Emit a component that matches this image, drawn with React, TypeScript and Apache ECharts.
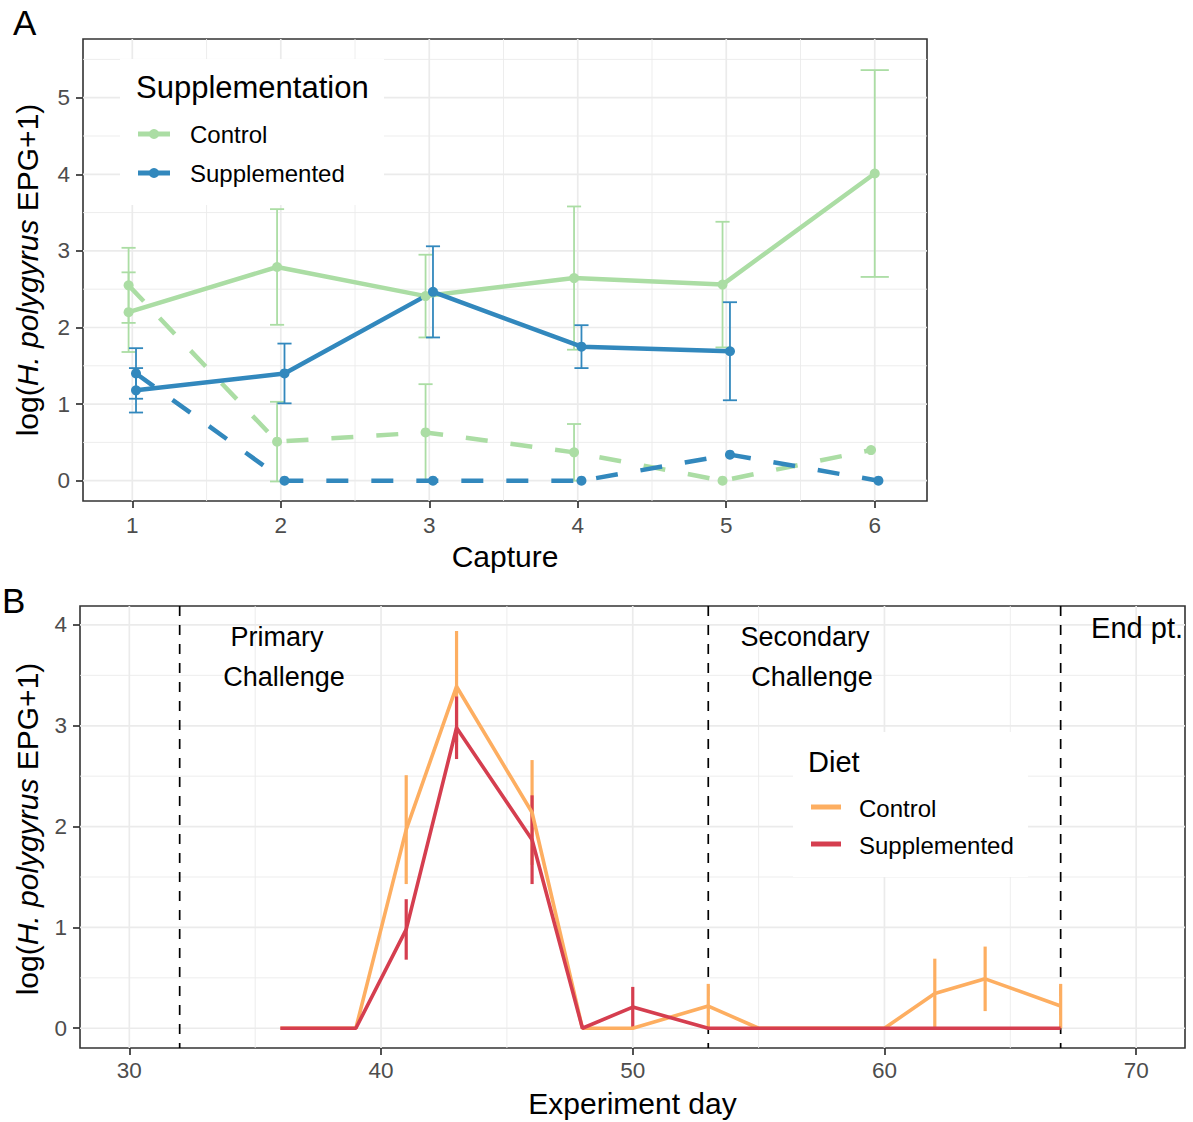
import React, { useEffect, useRef } from "react";
import * as echarts from "echarts";

// ---------------- Panel A data ----------------
const CAPTURES = [1, 2, 3, 4, 5, 6];
// solid lines
const ctrlSolidMean: (number | null)[] = [2.2, 2.79, 2.41, 2.645, 2.56, 4.01];
const ctrlSolidSE: (number | null)[] = [0.52, 0.755, 0.54, 0.935, 0.82, 1.35];
const suppSolidMean: (number | null)[] = [1.18, 1.4, 2.465, 1.75, 1.69, null];
const suppSolidSE: (number | null)[] = [0.29, 0.39, 0.595, 0.28, 0.64, null];
// dashed lines
const ctrlDashMean: (number | null)[] = [2.55, 0.51, 0.63, 0.37, 0.0, 0.4];
const ctrlDashSE: (number | null)[] = [0.49, 0.52, 0.63, 0.37, 0, 0];
const suppDashMean: (number | null)[] = [1.4, 0, 0, 0, 0.34, 0];
const suppDashSE: (number | null)[] = [0.33, 0, 0, 0, 0, 0];

const A_X_TICKS = [1, 2, 3, 4, 5, 6];
const A_X_MINOR = [1.5, 2.5, 3.5, 4.5, 5.5];
const A_Y_TICKS = [0, 1, 2, 3, 4, 5];
const A_Y_MINOR = [0.5, 1.5, 2.5, 3.5, 4.5, 5.5];

// ---------------- Panel B data ----------------
const DAYS = [36, 39, 41, 43, 46, 48, 50, 53, 55, 60, 62, 64, 67];
const ctrlDietMean = [0, 0, 1.97, 3.39, 2.14, 0, 0, 0.22, 0, 0, 0.345, 0.49, 0.22];
const ctrlDietSE = [0, 0, 0.54, 0.55, 0.52, 0, 0, 0.22, 0, 0, 0.345, 0.32, 0.22];
const suppDietMean = [0, 0, 0.98, 2.98, 1.87, 0, 0.21, 0, 0, 0, 0, 0, 0];
const suppDietSE = [0, 0, 0.3, 0.31, 0.44, 0, 0.2, 0, 0, 0, 0, 0, 0];
const PHASE_DAYS = [32, 53, 67];

const B_X_TICKS = [30, 40, 50, 60, 70];
const B_X_MINOR = [35, 45, 55, 65];
const B_Y_TICKS = [0, 1, 2, 3, 4];
const B_Y_MINOR = [0.5, 1.5, 2.5, 3.5];

// ---------------- style ----------------
const FONT = "'Liberation Sans', Arial, Helvetica, sans-serif";
const GREEN = "#abdda4";
const BLUE = "#3288bd";
const ORANGE = "#fdae61";
const RED = "#d53e4f";
const GRID_C = "#ebebeb";
const DODGE = 0.05;
const CAP_HALF = 0.095;

type Grp = { mean: (number | null)[]; se: (number | null)[] };

function dodged(groups: Grp[], gi: number) {
  const line: number[][] = [];
  const err: number[][] = [];
  CAPTURES.forEach((c, i) => {
    const present = groups.map((g, k) => (g.mean[i] != null ? k : -1)).filter((k) => k >= 0);
    const n = present.length;
    const m = groups[gi].mean[i];
    if (m == null) return;
    const k = present.indexOf(gi);
    const x = c + (k - (n - 1) / 2) * DODGE;
    line.push([x, m]);
    const s = groups[gi].se[i];
    if (s != null && s > 0) err.push([x, m - s, m + s, CAP_HALF / n]);
  });
  return { line, err };
}

const errRender = (color: string, lw: number) => (params: any, api: any) => {
  const x = api.value(0);
  const lo = api.value(1);
  const hi = api.value(2);
  const hw = api.value(3);
  const t = api.coord([x, hi]);
  const b = api.coord([x, lo]);
  const st = { stroke: color, lineWidth: lw };
  const children: any[] = [
    { type: "line", shape: { x1: t[0], y1: t[1], x2: b[0], y2: b[1] }, style: st },
  ];
  if (hw > 0) {
    const tl = api.coord([x - hw, hi]);
    const tr = api.coord([x + hw, hi]);
    const bl = api.coord([x - hw, lo]);
    const br = api.coord([x + hw, lo]);
    children.push({ type: "line", shape: { x1: tl[0], y1: tl[1], x2: tr[0], y2: tr[1] }, style: st });
    children.push({ type: "line", shape: { x1: bl[0], y1: bl[1], x2: br[0], y2: br[1] }, style: st });
  }
  return { type: "group", children };
};

const vRender = (color: string, lw: number, dash?: number[]) => (params: any, api: any) => {
  const cs = params.coordSys;
  const x = api.coord([api.value(0), api.value(1)])[0];
  return {
    type: "line",
    shape: { x1: x, y1: cs.y, x2: x, y2: cs.y + cs.height },
    style: { stroke: color, lineWidth: lw, lineDash: dash },
  };
};
const hRender = (color: string, lw: number) => (params: any, api: any) => {
  const cs = params.coordSys;
  const y = api.coord([api.value(0), api.value(1)])[1];
  return {
    type: "line",
    shape: { x1: cs.x, y1: y, x2: cs.x + cs.width, y2: y },
    style: { stroke: color, lineWidth: lw },
  };
};

function gridSeries(idx: number, xMajor: number[], xMinor: number[], yMajor: number[], yMinor: number[], xRef: number, yRef: number) {
  const mk = (name: string, data: number[][], render: any) => ({
    type: "custom",
    name,
    xAxisIndex: idx,
    yAxisIndex: idx,
    silent: true,
    z: 1,
    renderItem: render,
    data,
  });
  return [
    mk("gx-minor" + idx, xMinor.map((v) => [v, yRef]), vRender(GRID_C, 0.9)),
    mk("gy-minor" + idx, yMinor.map((v) => [xRef, v]), hRender(GRID_C, 0.9)),
    mk("gx-major" + idx, xMajor.map((v) => [v, yRef]), vRender(GRID_C, 1.7)),
    mk("gy-major" + idx, yMajor.map((v) => [xRef, v]), hRender(GRID_C, 1.7)),
  ];
}

const tickLabel = { color: "#4d4d4d", fontSize: 22.5, fontFamily: FONT };
const tickLine = { show: true, length: 7, lineStyle: { color: "#333333", width: 1.7 } };
const noLine = { show: false, onZero: false };

export default function App() {
  const ref = useRef<HTMLDivElement>(null);
  useEffect(() => {
    document.body.style.margin = "0";
    if (!ref.current) return;
    const chart = echarts.init(ref.current, undefined, { renderer: "svg" });

    const solidGroups = [
      { mean: ctrlSolidMean, se: ctrlSolidSE },
      { mean: suppSolidMean, se: suppSolidSE },
    ];
    const dashGroups = [
      { mean: ctrlDashMean, se: ctrlDashSE },
      { mean: suppDashMean, se: suppDashSE },
    ];
    const cS = dodged(solidGroups, 0);
    const sS = dodged(solidGroups, 1);
    const cD = dodged(dashGroups, 0);
    const sD = dodged(dashGroups, 1);

    const lineA = (name: string, data: number[][], color: string, dashed: boolean) => ({
      type: "line",
      name,
      xAxisIndex: 0,
      yAxisIndex: 0,
      data,
      z: 3,
      symbol: "circle",
      symbolSize: 10,
      showSymbol: true,
      itemStyle: { color },
      lineStyle: { color, width: 4.5, type: dashed ? [22, 23] : "solid", cap: "butt" },
      silent: true,
    });
    const errA = (name: string, data: number[][], color: string) => ({
      type: "custom",
      name,
      xAxisIndex: 0,
      yAxisIndex: 0,
      z: 3,
      silent: true,
      renderItem: errRender(color, 1.8),
      data,
    });

    const bLine = (name: string, mean: number[], color: string) => ({
      type: "line",
      name,
      xAxisIndex: 1,
      yAxisIndex: 1,
      z: 3,
      data: DAYS.map((d, i) => [d, mean[i]]),
      symbol: "none",
      showSymbol: false,
      lineStyle: { color, width: 3.6 },
      itemStyle: { color },
      silent: true,
    });
    const bErr = (name: string, mean: number[], se: number[], color: string) => ({
      type: "custom",
      name,
      xAxisIndex: 1,
      yAxisIndex: 1,
      z: 3,
      silent: true,
      renderItem: errRender(color, 3.2),
      data: DAYS.map((d, i) => [d, mean[i] - se[i], mean[i] + se[i], 0]).filter((r, i) => se[i] > 0),
    });

    const txt = (text: string, x: number, y: number, size: number, align = "left", extra: any = {}) => ({
      type: "text",
      x,
      y,
      z: 20,
      silent: true,
      style: { text, fontSize: size, fontFamily: FONT, fill: "#000", align, verticalAlign: "middle", ...extra },
    });
    const richTitle = {
      text: "{n|log(}{i|H. polygyrus}{n| EPG+1)}",
      rich: {
        n: { fontSize: 30, fontFamily: FONT, fill: "#000", color: "#000" },
        i: { fontSize: 30, fontFamily: FONT, fontStyle: "italic", fill: "#000", color: "#000" },
      },
    };

    const option: any = {
      animation: false,
      backgroundColor: "#ffffff",
      textStyle: { fontFamily: FONT },
      grid: [
        { left: 83, top: 39, width: 844, height: 462, show: true, borderColor: "#333333", borderWidth: 1.6, backgroundColor: "#fff", outerBoundsMode: "none", containLabel: false },
        { left: 80, top: 606, width: 1105, height: 442, show: true, borderColor: "#333333", borderWidth: 1.6, backgroundColor: "#fff", outerBoundsMode: "none", containLabel: false },
      ],
      xAxis: [
        {
          type: "value",
          gridIndex: 0,
          min: 0.668,
          max: 6.352,
          axisLine: noLine,
          axisTick: { ...tickLine, customValues: A_X_TICKS },
          axisLabel: { ...tickLabel, margin: 13, customValues: A_X_TICKS },
          splitLine: { show: false },
          name: "Capture",
          nameLocation: "middle",
          nameGap: 40,
          nameTextStyle: { fontSize: 30, fontFamily: FONT, color: "#000" },
        },
        {
          type: "value",
          gridIndex: 1,
          min: 28.04,
          max: 71.94,
          axisLine: noLine,
          axisTick: { ...tickLine, customValues: B_X_TICKS },
          axisLabel: { ...tickLabel, margin: 11, customValues: B_X_TICKS },
          splitLine: { show: false },
          name: "Experiment day",
          nameLocation: "middle",
          nameGap: 40,
          nameTextStyle: { fontSize: 30, fontFamily: FONT, color: "#000" },
        },
      ],
      yAxis: [
        {
          type: "value",
          gridIndex: 0,
          min: -0.265,
          max: 5.766,
          axisLine: noLine,
          axisTick: { ...tickLine, customValues: A_Y_TICKS },
          axisLabel: { ...tickLabel, margin: 13, customValues: A_Y_TICKS },
          splitLine: { show: false },
        },
        {
          type: "value",
          gridIndex: 1,
          min: -0.196,
          max: 4.188,
          axisLine: noLine,
          axisTick: { ...tickLine, customValues: B_Y_TICKS },
          axisLabel: { ...tickLabel, margin: 13, customValues: B_Y_TICKS },
          splitLine: { show: false },
        },
      ],
      series: [
        ...gridSeries(0, A_X_TICKS, A_X_MINOR, A_Y_TICKS, A_Y_MINOR, 1, 0),
        ...gridSeries(1, B_X_TICKS, B_X_MINOR, B_Y_TICKS, B_Y_MINOR, 40, 0),
        lineA("Control", cS.line, GREEN, false),
        lineA("Control (dashed)", cD.line, GREEN, true),
        errA("Control error", [...cS.err, ...cD.err], GREEN),
        lineA("Supplemented", sS.line, BLUE, false),
        lineA("Supplemented (dashed)", sD.line, BLUE, true),
        errA("Supplemented error", [...sS.err, ...sD.err], BLUE),
        {
          type: "custom",
          name: "phases",
          xAxisIndex: 1,
          yAxisIndex: 1,
          z: 2,
          silent: true,
          renderItem: vRender("#000000", 1.7, [10, 9]),
          data: PHASE_DAYS.map((d) => [d, 0]),
        },
        bLine("Diet Control", ctrlDietMean, ORANGE),
        bErr("Diet Control error", ctrlDietMean, ctrlDietSE, ORANGE),
        bLine("Diet Supplemented", suppDietMean, RED),
        bErr("Diet Supplemented error", suppDietMean, suppDietSE, RED),
      ],
      graphic: [
        // panel tags
        txt("A", 13, 22, 35),
        txt("B", 2, 600, 35),
        // y titles
        { type: "text", x: 27, y: 270, rotation: Math.PI / 2, z: 20, silent: true, style: { ...richTitle, align: "center", verticalAlign: "middle", fontSize: 30, fontFamily: FONT } },
        { type: "text", x: 27, y: 829, rotation: Math.PI / 2, z: 20, silent: true, style: { ...richTitle, align: "center", verticalAlign: "middle", fontSize: 30, fontFamily: FONT } },
        // legend A
        { type: "rect", z: 15, silent: true, shape: { x: 120, y: 59, width: 264, height: 146 }, style: { fill: "#ffffff" } },
        txt("Supplementation", 136, 87, 31),
        { type: "line", z: 16, silent: true, shape: { x1: 138, y1: 134, x2: 170, y2: 134 }, style: { stroke: GREEN, lineWidth: 5 } },
        { type: "circle", z: 17, silent: true, shape: { cx: 154, cy: 134, r: 5 }, style: { fill: GREEN } },
        txt("Control", 190, 134, 24),
        { type: "line", z: 16, silent: true, shape: { x1: 138, y1: 173, x2: 170, y2: 173 }, style: { stroke: BLUE, lineWidth: 5 } },
        { type: "circle", z: 17, silent: true, shape: { cx: 154, cy: 173, r: 5 }, style: { fill: BLUE } },
        txt("Supplemented", 190, 173, 24),
        // legend B
        { type: "rect", z: 15, silent: true, shape: { x: 793, y: 732, width: 235, height: 145 }, style: { fill: "#ffffff" } },
        txt("Diet", 808, 762, 29),
        { type: "line", z: 16, silent: true, shape: { x1: 811, y1: 807, x2: 841, y2: 807 }, style: { stroke: ORANGE, lineWidth: 5 } },
        txt("Control", 859, 808, 24),
        { type: "line", z: 16, silent: true, shape: { x1: 811, y1: 844, x2: 841, y2: 844 }, style: { stroke: RED, lineWidth: 5 } },
        txt("Supplemented", 859, 845, 24),
        // annotations B
        txt("Primary", 277, 637, 27, "center"),
        txt("Challenge", 284, 677, 27, "center"),
        txt("Secondary", 805, 637, 27, "center"),
        txt("Challenge", 812, 677, 27, "center"),
        txt("End pt.", 1183, 628, 29, "right"),
      ],
    };
    chart.setOption(option);
    return () => chart.dispose();
  }, []);
  return <div ref={ref} style={{ width: 1193, height: 1122 }} />;
}
